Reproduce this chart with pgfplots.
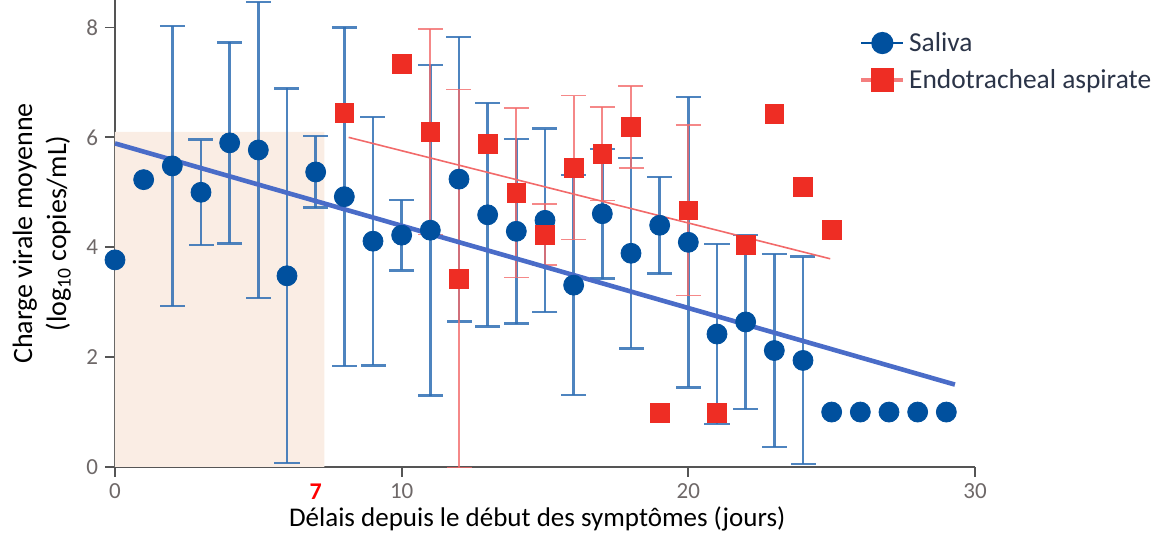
\documentclass[border=0pt]{standalone}
\usepackage{pgfplots}
\usepackage{pgfplotstable}
\pgfplotsset{compat=1.18}
\usepackage{fontspec}
\setmainfont{Carlito}
\definecolor{salblue}{HTML}{00509E}
\definecolor{errblue}{HTML}{2F6FB4}
\definecolor{trendblue}{HTML}{4A6CC8}
\definecolor{etared}{HTML}{EE2D24}
\definecolor{errred}{HTML}{F26A6A}
\definecolor{legred}{HTML}{F47F7F}
\definecolor{shade}{HTML}{FAEDE4}
\definecolor{ticklab}{HTML}{6E6868}
\definecolor{axgray}{HTML}{555555}
\definecolor{legtext}{HTML}{2B3448}

% Saliva: all means
\pgfplotstableread{
x y
0 3.77
1 5.23
2 5.48
3 5.00
4 5.90
5 5.77
6 3.48
7 5.37
8 4.92
9 4.11
10 4.22
11 4.31
12 5.24
13 4.59
14 4.29
15 4.49
16 3.31
17 4.61
18 3.89
19 4.40
20 4.09
21 2.42
22 2.64
23 2.12
24 1.94
25 1.00
26 1.00
27 1.00
28 1.00
29 1.00
}\saliva

% Saliva: points with error bars
\pgfplotstableread{
x y e
2 5.48 2.55
3 5.00 0.96
4 5.90 1.83
5 5.77 2.69
6 3.48 3.41
7 5.37 0.65
8 4.92 3.08
9 4.11 2.26
10 4.22 0.64
11 4.31 3.01
12 5.24 2.59
13 4.59 2.03
14 4.29 1.68
15 4.49 1.67
16 3.31 2.00
17 4.61 1.18
18 3.89 1.73
19 4.40 0.88
20 4.09 2.64
21 2.42 1.64
22 2.64 1.58
23 2.12 1.76
24 1.94 1.89
}\salerr

% Endotracheal aspirate: all means
\pgfplotstableread{
x y
8 6.44
10 7.34
11 6.10
12 3.43
13 5.88
14 4.99
15 4.23
16 5.45
17 5.70
18 6.19
19 0.99
20 4.67
21 0.99
22 4.04
23 6.42
24 5.10
25 4.32
}\eta

% Endotracheal aspirate: points with error bars
\pgfplotstableread{
x y e
11 6.10 1.87
12 3.43 3.44
14 4.99 1.54
15 4.23 0.55
16 5.45 1.31
17 5.70 0.85
18 6.19 0.75
20 4.67 1.55
}\etaerr

\begin{document}
\begin{tikzpicture}
\begin{axis}[
  scale only axis, width=430pt, height=233.5pt,
  xmin=0, xmax=30, ymin=0, ymax=8.5,
  axis x line*=bottom, axis y line*=left,
  axis line style={draw=axgray, line width=0.9pt, -},
  xtick={0,10,20,30}, ytick={0,2,4,6,8},
  tick align=outside, major tick length=5pt,
  tick style={draw=axgray, line width=0.9pt},
  /pgf/number format/assume math mode=true,
  tick label style={font=\fontsize{11.5}{13}\selectfont, text=ticklab},
  extra x ticks={7},
  extra x tick style={major tick style={draw=none},
     tick label style={text=red, font=\fontsize{12}{13}\selectfont\bfseries}},
  xlabel={Délais depuis le début des symptômes (jours)},
  xlabel style={font=\fontsize{13.5}{16}\selectfont, at={(axis description cs:0.491,-0.111)}, anchor=center},
  ylabel={Charge virale moyenne\\(log\textsubscript{10} copies/mL)},
  ylabel style={font=\fontsize{14}{17}\selectfont, align=center, at={(axis description cs:-0.085,0.5)}, anchor=center},
  clip=false,
  legend image code/.code={\draw[mark repeat=2,mark phase=2,#1] plot coordinates {(0pt,0pt) (10.5pt,0pt) (21pt,0pt)};},
  legend style={at={(axis cs:25.75,8.07)}, anchor=north west, draw=none, fill=none,
     font=\fontsize{13.7}{16}\selectfont, text=legtext, legend cell align=left,
     row sep=3.5pt},
]
\coordinate (BL) at (rel axis cs:0,0);
\coordinate (TL) at (rel axis cs:0,1);

\addlegendimage{salblue, line width=1.1pt, mark=*, mark size=5pt}
\addlegendentry{Saliva}
\addlegendimage{legred, line width=1.8pt, mark=square*, mark size=5pt, mark options={etared, draw=etared, fill=etared}}
\addlegendentry{Endotracheal aspirate}

% shaded first-week area
\addplot[fill=shade, draw=none, forget plot] coordinates {(0,0) (0,6.1) (7.3,6.1) (7.3,0)} \closedcycle;

% error bars
\addplot[only marks, mark=none, forget plot,
  error bars/.cd, y dir=both, y explicit,
  error bar style={draw=errblue, line width=1.2pt, opacity=0.85},
  error mark options={rotate=90, draw=errblue, line width=1.2pt, mark size=6.25pt, opacity=0.85}]
  table[x=x, y=y, y error=e] {\salerr};
\addplot[only marks, mark=none, forget plot,
  error bars/.cd, y dir=both, y explicit,
  error bar style={draw=errred, line width=0.9pt, opacity=0.8},
  error mark options={rotate=90, draw=errred, line width=0.9pt, mark size=6.25pt, opacity=0.8}]
  table[x=x, y=y, y error=e] {\etaerr};

% trend lines
\addplot[trendblue, line width=2.3pt, forget plot] coordinates {(0,5.89) (29.3,1.50)};
\addplot[errred, line width=0.8pt, forget plot] coordinates {(8.15,6.00) (24.95,3.79)};

% markers
\addplot[only marks, mark=*, mark size=5pt, color=salblue, forget plot] table[x=x, y=y] {\saliva};
\addplot[only marks, mark=square*, mark size=4.7pt, color=etared, forget plot] table[x=x, y=y] {\eta};
\end{axis}
\pgfresetboundingbox
\path ([xshift=-57.5pt,yshift=-34pt]BL) rectangle ([xshift=523.5pt]TL);
\end{tikzpicture}
\end{document}
